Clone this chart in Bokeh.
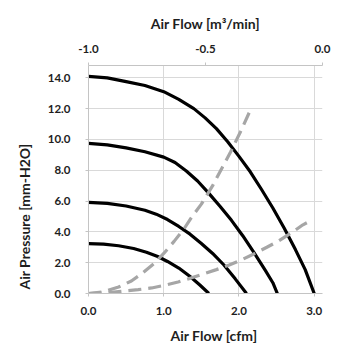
from bokeh.plotting import figure
from bokeh.models import Range1d, LinearAxis, FixedTicker, PrintfTickFormatter, Title
from bokeh.embed import file_html
from bokeh.resources import INLINE

# ---- data ----
# fan P-Q curves (flow in cfm, pressure in mm-H2O)
fan1_flow = [0.0, 0.25, 0.5, 0.75, 1.0, 1.2, 1.4, 1.55, 1.7, 1.85, 2.0, 2.15,
             2.3, 2.45, 2.6, 2.75, 2.88, 3.0]
fan1_pres = [14.1, 14.0, 13.75, 13.5, 13.1, 12.6, 12.0, 11.4, 10.7, 9.85, 8.9, 7.9,
             6.75, 5.55, 4.25, 2.85, 1.55, 0.0]
fan2_flow = [0.0, 0.25, 0.5, 0.75, 1.0, 1.15, 1.3, 1.45, 1.6, 1.75, 1.9, 2.05,
             2.2, 2.35, 2.45, 2.51]
fan2_pres = [9.75, 9.65, 9.45, 9.2, 8.85, 8.5, 7.95, 7.3, 6.5, 5.65, 4.75, 3.75,
             2.65, 1.5, 0.7, 0.0]
fan3_flow = [0.0, 0.25, 0.5, 0.75, 0.9, 1.05, 1.2, 1.35, 1.5, 1.65, 1.8, 1.95, 2.1]
fan3_pres = [5.92, 5.85, 5.68, 5.4, 5.15, 4.8, 4.35, 3.85, 3.25, 2.6, 1.85, 0.95, 0.0]
fan4_flow = [0.0, 0.2, 0.4, 0.6, 0.77, 0.92, 1.05, 1.2, 1.35, 1.48, 1.6]
fan4_pres = [3.24, 3.2, 3.1, 2.92, 2.68, 2.4, 2.08, 1.65, 1.1, 0.55, 0.0]
# system impedance curves (dashed)
imp1_flow = [0.0, 0.19, 0.4, 0.57, 0.72, 0.87, 1.0, 1.14, 1.27, 1.37, 1.5, 1.65,
             1.78, 1.89, 2.02, 2.16]
imp1_pres = [0.0, 0.1, 0.42, 0.81, 1.33, 1.94, 2.6, 3.4, 4.2, 4.95, 5.8, 7.0,
             8.2, 9.2, 10.5, 12.0]
imp2_flow = [0.0, 0.25, 0.48, 0.66, 0.84, 1.0, 1.19, 1.36, 1.54, 1.7, 1.87, 2.04,
             2.21, 2.37, 2.53, 2.7, 2.85, 2.95]
imp2_pres = [0.0, 0.05, 0.16, 0.25, 0.36, 0.52, 0.75, 1.0, 1.29, 1.55, 1.85, 2.2,
             2.6, 3.0, 3.42, 3.95, 4.46, 4.72]

x_ticks = [0.0, 1.0, 2.0, 3.0]
top_ticks = [-1.0, -0.5, 0.0]
y_ticks = [0.0, 2.0, 4.0, 6.0, 8.0, 10.0, 12.0, 14.0]

FONT = "Lato"
AX = "#C4C4C4"
GRID = "#D9D9D9"
TXT = "#1E1E1E"

p = figure(width=355, height=355, output_backend="svg", toolbar_location=None,
           x_range=Range1d(0, 3.11), y_range=Range1d(0, 14.8), title=None,
           min_border_left=88, min_border_right=33, min_border_top=65, min_border_bottom=62)
p.outline_line_color = None
p.background_fill_color = "white"
p.border_fill_color = "white"
p.extra_x_ranges = {"top": Range1d(-1.0, 0.0)}


def style_axis(ax, ticks, standoff):
    ax.ticker = FixedTicker(ticks=ticks)
    ax.formatter = PrintfTickFormatter(format="%.1f")
    ax.axis_line_color = AX
    ax.axis_line_width = 1
    ax.major_tick_line_color = AX
    ax.major_tick_in = 0
    ax.major_tick_out = 3
    ax.minor_tick_line_color = None
    ax.major_label_text_font = FONT
    ax.major_label_text_font_style = "bold"
    ax.major_label_text_font_size = "11.5px"
    ax.major_label_text_color = TXT
    ax.major_label_standoff = standoff


style_axis(p.xaxis[0], x_ticks, 10)
style_axis(p.yaxis[0], y_ticks, 15)
top_axis = LinearAxis(x_range_name="top")
style_axis(top_axis, top_ticks, 10)
p.add_layout(top_axis, "above")

p.xgrid.ticker = FixedTicker(ticks=x_ticks)
p.ygrid.ticker = FixedTicker(ticks=y_ticks)
p.grid.grid_line_color = GRID
p.grid.grid_line_width = 1

for fx, fy in [(fan1_flow, fan1_pres), (fan2_flow, fan2_pres),
               (fan3_flow, fan3_pres), (fan4_flow, fan4_pres)]:
    p.line(fx, fy, line_color="black", line_width=3.2, line_join="round")

for ix, iy in [(imp1_flow, imp1_pres), (imp2_flow, imp2_pres)]:
    p.line(ix, iy, line_color="#A6A6A6", line_width=3.2, line_dash="13 7")


def mk_title(text, align="center", offset=0, padding=0):
    t = Title(text=text, align=align, offset=offset, padding=padding)
    t.text_font = FONT
    t.text_font_style = "bold"
    t.text_font_size = "14px"
    t.text_color = TXT
    return t


p.add_layout(mk_title("Air Flow [m³/min]", "center", 0, 5), "above")
p.add_layout(mk_title("Air Flow [cfm]", "left", 80, 2), "below")
p.add_layout(mk_title("Air Pressure [mm-H2O]", "left", -3, 7), "left")

open("out.html", "w").write(file_html(p, INLINE))
